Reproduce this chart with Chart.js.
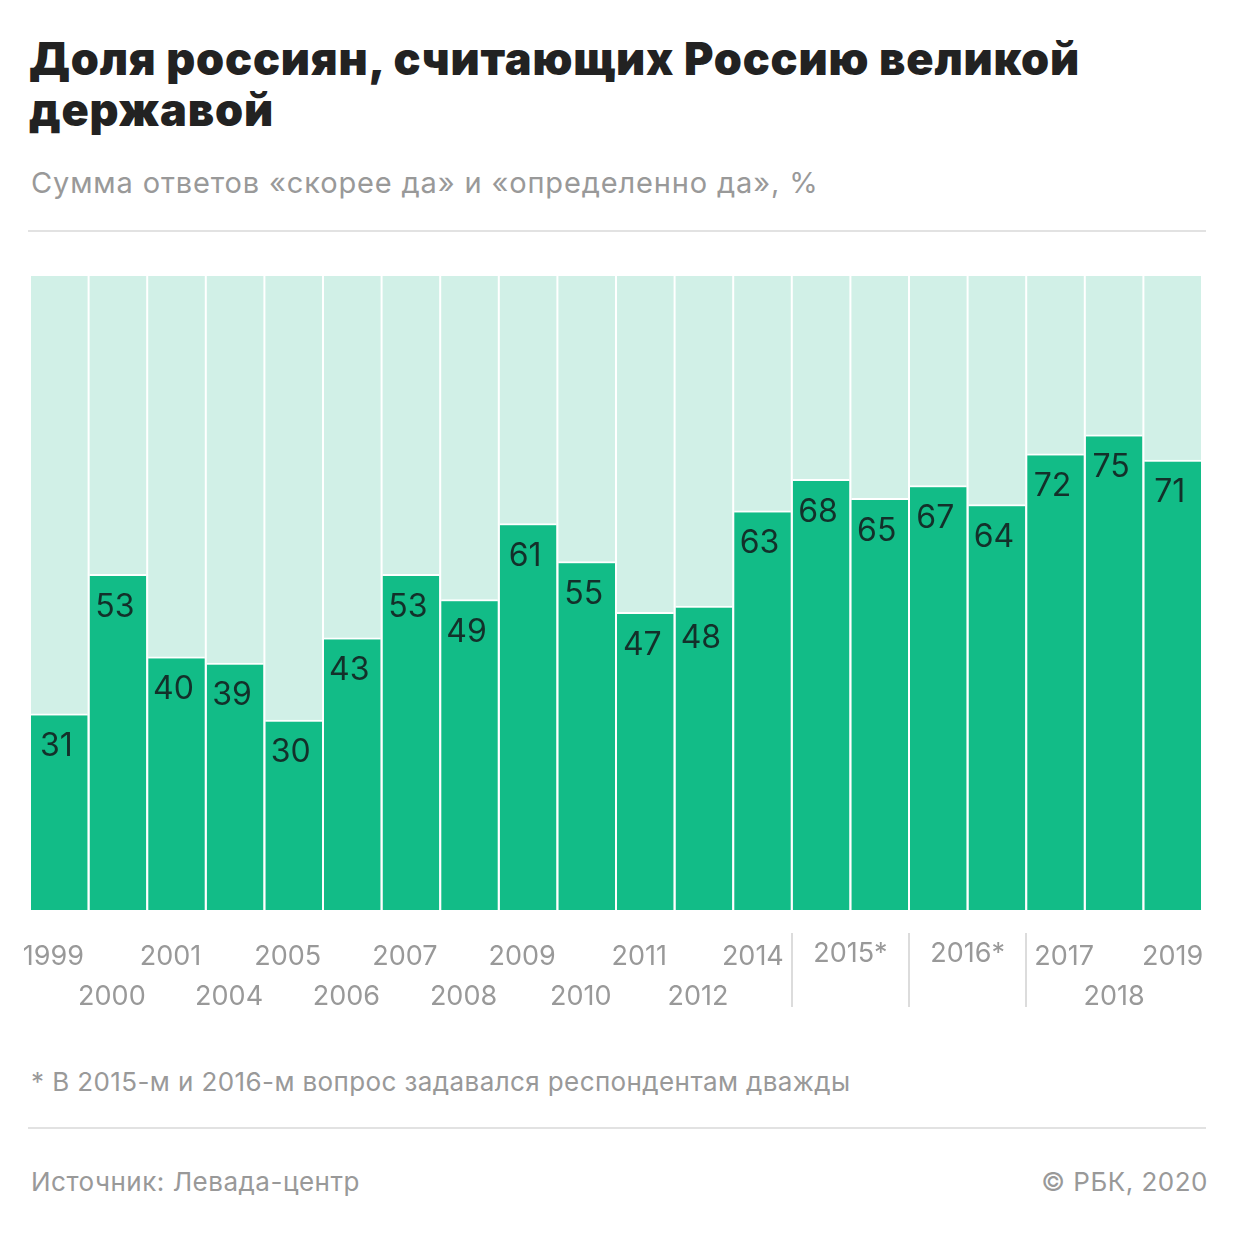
<!DOCTYPE html>
<html lang="ru">
<head>
<meta charset="utf-8">
<script src="https://cdn.jsdelivr.net/npm/chart.js@4/dist/chart.umd.min.js"></script>
<style>
  body { margin: 0; background: #fff; font-family: Inter, Roboto, sans-serif; }
  #page { position: relative; width: 1240px; height: 1240px; overflow: hidden; }
  h1 { position: absolute; left: 29px; top: 33px; margin: 0; width: 1200px;
       font-size: 45px; line-height: 51px; font-weight: 900; color: #222; letter-spacing: 0.8px; }
  .sub { position: absolute; left: 31px; top: 165px; font-size: 29px; color: #999; letter-spacing: 0.85px; }
  .rule { position: absolute; left: 28px; width: 1178px; height: 2px; background: #e2e2e2; }
  .note { position: absolute; left: 31px; top: 1066px; font-size: 26px; color: #999; letter-spacing: 0.4px; }
  .src { position: absolute; top: 1166px; font-size: 26px; color: #999; letter-spacing: 0.5px; }
  #wrap { position: absolute; left: 0; top: 250px; width: 1240px; height: 790px; }
</style>
</head>
<body>
<div id="page">
  <h1>Доля россиян, считающих Россию великой<br>державой</h1>
  <div class="sub">Сумма ответов «скорее да» и «определенно да», %</div>
  <div class="rule" style="top:230px"></div>
  <div id="wrap"><canvas id="chart"></canvas></div>
  <div class="note">* В 2015-м и 2016-м вопрос задавался респондентам дважды</div>
  <div class="rule" style="top:1127px"></div>
  <div class="src" style="left:31px">Источник: Левада-центр</div>
  <div class="src" style="right:32px">© РБК, 2020</div>
</div>
<script>
// years on the axis; 2015 and 2016 were asked twice
const years = ["1999", "2000", "2001", "2004", "2005", "2006", "2007", "2008", "2009", "2010",
  "2011", "2012", "2014", "2015*", "2015*", "2016*", "2016*", "2017", "2018", "2019"];
const greatPower = [31, 53, 40, 39, 30, 43, 53, 49, 61, 55, 47, 48, 63, 68, 65, 67, 64, 72, 75, 71];
const fullScale = [100, 100, 100, 100, 100, 100, 100, 100, 100, 100,
  100, 100, 100, 100, 100, 100, 100, 100, 100, 100];

const green = "#12bc87";
const mint = "#d1f0e7";
const gray = "#999999";

// value labels inside the top of each green bar
const valueLabels = {
  id: "valueLabels",
  afterDatasetsDraw(chart) {
    const ctx = chart.ctx;
    const meta = chart.getDatasetMeta(1);
    ctx.save();
    ctx.font = "32px Inter";
    ctx.fillStyle = "#13302a";
    ctx.textAlign = "center";
    ctx.textBaseline = "middle";
    meta.data.forEach((bar, i) => {
      ctx.fillText(greatPower[i], bar.x - 3, bar.y + 33);
    });
    ctx.restore();
  },
};

// two-row year labels, grouped labels for the repeated years, separators
const yearAxis = {
  id: "yearAxis",
  afterDraw(chart) {
    const ctx = chart.ctx;
    const x = chart.scales.x;
    const bottom = chart.chartArea.bottom;
    const step = x.getPixelForValue(1) - x.getPixelForValue(0);

    // find groups of equal consecutive labels
    const groups = [];
    years.forEach((y, i) => {
      const last = groups[groups.length - 1];
      if (last && last.label === y) last.end = i;
      else groups.push({ label: y, start: i, end: i });
    });

    const seps = [];
    groups.forEach((g, gi) => {
      if (g.end > g.start) {
        seps.push(x.getPixelForValue(g.start) - step / 2);
        if (gi === groups.length - 1 || groups[gi + 1].end === groups[gi + 1].start)
          seps.push(x.getPixelForValue(g.end) + step / 2);
      }
    });

    ctx.save();
    ctx.strokeStyle = "#dcdcdc";
    ctx.lineWidth = 2;
    seps.forEach((sx) => {
      ctx.beginPath();
      ctx.moveTo(Math.round(sx), bottom + 23);
      ctx.lineTo(Math.round(sx), bottom + 97);
      ctx.stroke();
    });

    ctx.font = "27px Inter";
    ctx.fillStyle = gray;
    ctx.textBaseline = "middle";
    ctx.textAlign = "left";
    let row = 0;
    groups.forEach((g) => {
      const cx = (x.getPixelForValue(g.start) + x.getPixelForValue(g.end)) / 2;
      const w = ctx.measureText(g.label).width;
      if (g.end > g.start) {
        ctx.fillText(g.label, cx - w / 2, bottom + 44);
        row = 0;
        return;
      }
      // labels before the first separator sit a little left of the bar centre
      let left = cx - w / 2 + (cx < seps[0] ? -6 : 0);
      seps.forEach((sx) => {
        if (sx > cx && left + w > sx - 8) left = sx - 8 - w;
        if (sx < cx && left < sx + 8) left = sx + 8;
      });
      ctx.fillText(g.label, left, bottom + (row === 0 ? 47 : 87));
      row = 1 - row;
    });
    ctx.restore();
  },
};

new Chart(document.getElementById("chart"), {
  type: "bar",
  data: {
    labels: years,
    datasets: [
      {
        data: fullScale,
        backgroundColor: mint,
        barPercentage: 0.966,
        categoryPercentage: 1,
        order: 2,
      },
      {
        data: greatPower,
        backgroundColor: green,
        borderColor: "#ffffff",
        borderWidth: { top: 2, left: 0, right: 0, bottom: 0 },
        borderSkipped: "bottom",
        barPercentage: 0.966,
        categoryPercentage: 1,
        order: 1,
      },
    ],
  },
  options: {
    responsive: true,
    maintainAspectRatio: false,
    animation: false,
    layout: { padding: { left: 30, right: 38, top: 26, bottom: 130 } },
    plugins: { legend: { display: false }, tooltip: { enabled: false } },
    scales: {
      x: { display: false, stacked: true },
      y: { display: false, min: 0, max: 100, stacked: false },
    },
  },
  plugins: [valueLabels, yearAxis],
});
</script>
</body>
</html>
